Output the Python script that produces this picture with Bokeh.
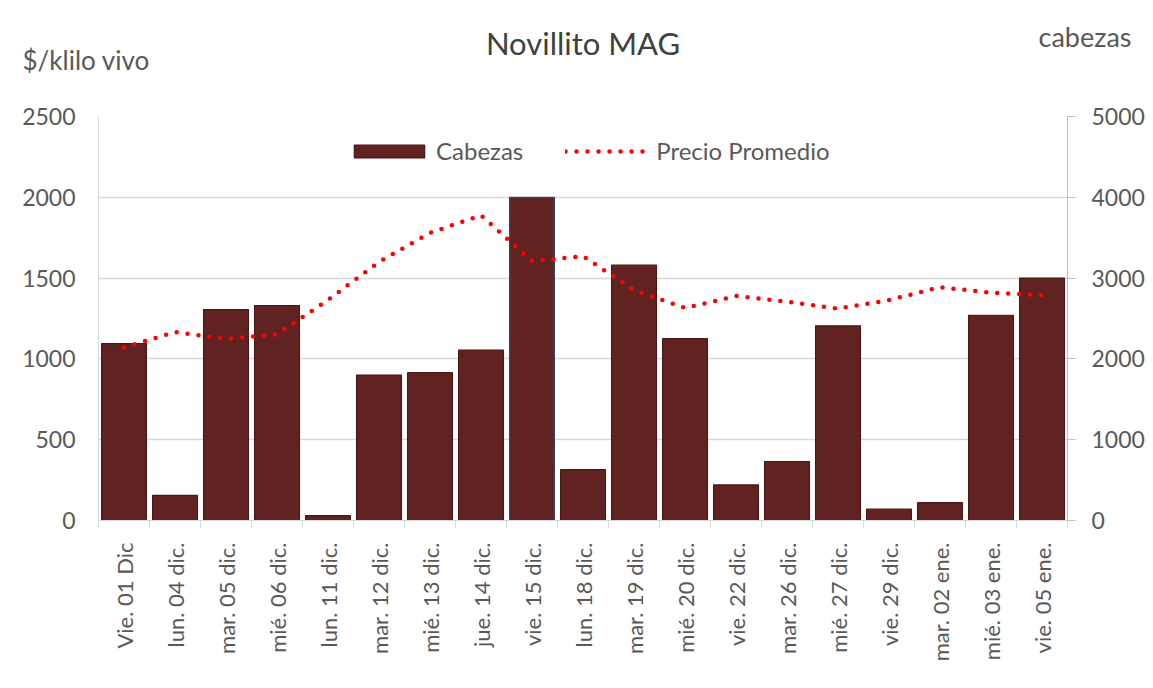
import math
from bokeh.plotting import figure
from bokeh.models import (Range1d, LinearAxis, FixedTicker, Legend,
                          LegendItem, ColumnDataSource, Title)
from bokeh.embed import file_html
from bokeh.resources import INLINE

categories = ["Vie. 01 Dic", "lun. 04 dic.", "mar. 05 dic.", "mié. 06 dic.",
              "lun. 11 dic.", "mar. 12 dic.", "mié. 13 dic.", "jue. 14 dic.",
              "vie. 15 dic.", "lun. 18 dic.", "mar. 19 dic.", "mié. 20 dic.",
              "vie. 22 dic.", "mar. 26 dic.", "mié. 27 dic.", "vie. 29 dic.",
              "mar. 02 ene.", "mié. 03 ene.", "vie. 05 ene."]
cabezas = [2190, 310, 2610, 2660, 60, 1800, 1830, 2110, 4000, 630,
           3160, 2250, 440, 730, 2410, 140, 220, 2540, 3000]
precio = [1070, 1167, 1123, 1152, 1365, 1600, 1780, 1889, 1605, 1636,
          1426, 1315, 1389, 1354, 1311, 1364, 1444, 1409, 1395]
left_ticks = [0, 500, 1000, 1500, 2000, 2500]
right_ticks = [0, 1000, 2000, 3000, 4000, 5000]

FONT = "Lato"
TXT = "#595959"
GRID = "#d9d9d9"
BAR = "#612322"

n = len(categories)
xs = list(range(n))
outline = [("#2f4a6d" if c == max(cabezas) else "#4a1816") for c in cabezas]
src = ColumnDataSource(dict(x=xs, cab=cabezas, pre=precio, oc=outline))

p = figure(width=1153, height=688, output_backend="svg", toolbar_location=None,
           x_range=Range1d(-0.5, n - 0.5), y_range=Range1d(0, 2500),
           min_border_left=98, min_border_right=86, min_border_top=115,
           min_border_bottom=168)
p.extra_y_ranges = {"cab": Range1d(0, 5000)}
p.outline_line_color = None
p.background_fill_color = "white"
p.border_fill_color = "white"

# header texts stacked in the "above" panel (nearest to the frame first)
p.title = Title(text="Novillito MAG", align="center", text_font=FONT,
                text_font_size="31px", text_color="#404040",
                text_font_style="normal", standoff=-122)
p.add_layout(Title(text="$/klilo vivo", align="left", offset=-76, text_font=FONT,
                   text_font_size="26px", text_color=TXT,
                   text_font_style="normal", standoff=82), "above")
p.add_layout(Title(text="cabezas", align="right", offset=-64, text_font=FONT,
                   text_font_size="27px", text_color=TXT,
                   text_font_style="normal", standoff=-105), "above")

bars = p.vbar(x="x", top="cab", width=0.88, source=src, y_range_name="cab",
              fill_color=BAR, line_color="oc", line_width=1.2)
line = p.line(x="x", y="pre", source=src, line_color="#ff0000", line_width=4.5,
              line_dash="0 11", line_cap="round")

# left axis
ya = p.yaxis[0]
ya.ticker = FixedTicker(ticks=left_ticks)
ya.axis_line_color = GRID
ya.major_tick_line_color = None
ya.minor_tick_line_color = None
ya.major_label_standoff = 17
ya.major_label_text_font = FONT
ya.major_label_text_font_size = "23px"
ya.major_label_text_color = TXT

# right axis
ra = LinearAxis(y_range_name="cab", ticker=FixedTicker(ticks=right_ticks))
ra.axis_line_color = "#bfbfbf"
ra.major_tick_line_color = "#bfbfbf"
ra.major_tick_out = 8
ra.major_tick_in = 0
ra.minor_tick_line_color = None
ra.major_label_standoff = 16
ra.major_label_text_font = FONT
ra.major_label_text_font_size = "23px"
ra.major_label_text_color = TXT
p.add_layout(ra, "right")

# x axis
xa = p.xaxis[0]
xa.ticker = FixedTicker(ticks=xs, minor_ticks=[i - 0.5 for i in range(n + 1)])
xa.major_label_overrides = {i: c for i, c in enumerate(categories)}
xa.major_label_orientation = math.pi / 2
xa.major_tick_line_color = None
xa.minor_tick_line_color = GRID
xa.minor_tick_out = 8
xa.minor_tick_in = 0
xa.axis_line_color = GRID
xa.major_label_standoff = 14
xa.major_label_text_font = FONT
xa.major_label_text_font_size = "22px"
xa.major_label_text_color = TXT

p.xgrid.visible = False
p.ygrid.grid_line_color = GRID
p.ygrid.grid_line_width = 1.3

legend = Legend(items=[LegendItem(label="Cabezas", renderers=[bars]),
                       LegendItem(label="Precio Promedio", renderers=[line])],
                orientation="horizontal", location=(247, 355),
                margin=0, padding=4, spacing=42, label_standoff=3,
                glyph_width=88, glyph_height=16,
                label_text_font=FONT, label_text_font_size="24px",
                label_text_color=TXT, border_line_color=None,
                background_fill_alpha=0)
p.add_layout(legend)

open("out.html", "w").write(file_html(p, INLINE))
